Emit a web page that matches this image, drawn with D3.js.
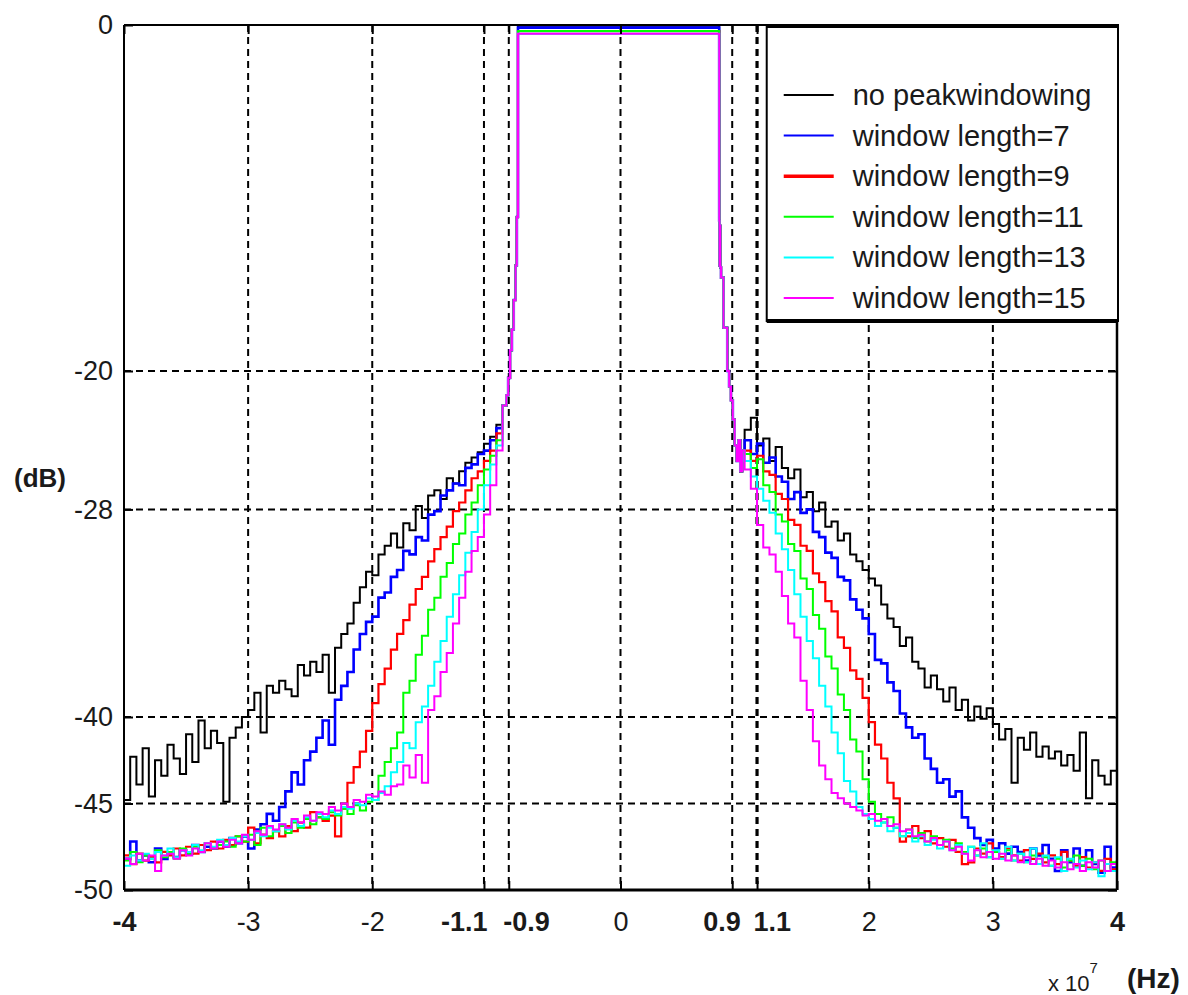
<!DOCTYPE html>
<html>
<head>
<meta charset="utf-8">
<script src="https://cdn.jsdelivr.net/npm/d3@7"></script>
<style>
  html, body { margin: 0; padding: 0; background: #fff; }
  svg { display: block; }
  text { font-family: "Liberation Sans", Arial, sans-serif; fill: #1a1a1a; }
</style>
</head>
<body>
<svg id="chart" width="1188" height="995"></svg>
<script>
// ---- axis ticks ----
const xTickValues = [-4, -3, -2, -1.1, -0.9, 0, 0.9, 1.1, 2, 3, 4];
const xTickLabels = ["-4", "-3", "-2", "-1.1", "-0.9", "0", "0.9", "1.1", "2", "3", "4"];
const yTickValues = [0, -20, -28, -40, -45, -50];
const yTickLabels = ["0", "-20", "-28", "-40", "-45", "-50"];

// ---- series ----
const seriesNames = ["no peakwindowing", "window length=7", "window length=9",
                     "window length=11", "window length=13", "window length=15"];
const seriesColors = ["#000000", "#0000ff", "#ff0000", "#00ff00", "#00ffff", "#ff00ff"];
// in-band level of each spectrum (dB)
const passLevel = [-0.05, -0.15, -0.35, -0.35, -0.5, -0.5];

// skirts sampled every 0.05 (x 1e7 Hz): left from -4.00 to -1.00, right from 1.00 to 4.00
const skirtStep = 0.05;
const leftStart = -4.0;
const rightStart = 1.0;

const leftNoPW = [-44.8,-42.3,-43.9,-41.8,-44.6,-42.5,-43.4,-41.6,-42.4,-43.3,
  -41.0,-42.6,-40.2,-41.8,-40.8,-41.5,-44.9,-41.2,-40.6,-40.0,
  -39.6,-38.6,-40.9,-38.2,-38.6,-37.9,-38.4,-38.8,-37.0,-37.6,
  -36.8,-37.4,-36.4,-38.6,-36.0,-35.2,-34.6,-33.4,-32.5,-31.6,
  -31.8,-30.6,-30.1,-29.4,-30.2,-28.8,-29.2,-27.8,-28.5,-27.2,
  -26.9,-27.4,-26.2,-26.5,-25.8,-25.3,-25.0,-24.7,-24.2,-23.8,-23.1];
const leftW7 = [-48.2,-47.2,-48.3,-48.0,-48.4,-47.6,-48.2,-47.9,-48.1,-47.7,
  -47.9,-47.4,-47.8,-47.5,-47.6,-47.2,-47.5,-47.0,-47.3,-46.9,
  -47.6,-46.5,-46.2,-45.6,-46.0,-45.2,-44.3,-43.2,-43.9,-42.5,
  -42.0,-41.2,-40.2,-41.6,-39.0,-38.2,-37.4,-36.1,-35.2,-34.5,
  -34.2,-33.1,-32.8,-31.9,-31.5,-30.4,-30.6,-29.6,-29.8,-28.3,
  -28.1,-27.2,-26.9,-26.5,-26.6,-25.6,-25.4,-24.8,-24.6,-24.0,-23.3];
const leftW9 = [-48.0,-48.5,-47.9,-48.3,-48.1,-48.4,-47.8,-48.0,-47.6,-48.0,
  -47.5,-47.9,-47.4,-47.7,-47.2,-47.6,-47.1,-47.4,-46.9,-47.2,
  -46.4,-47.3,-46.8,-47.0,-46.6,-46.9,-46.3,-46.6,-46.1,-46.4,
  -45.5,-45.8,-46.0,-45.7,-46.9,-45.3,-43.8,-42.9,-42.0,-40.8,
  -39.2,-38.1,-37.2,-36.1,-35.2,-34.4,-33.5,-32.6,-31.9,-31.0,
  -30.3,-29.6,-29.0,-28.1,-27.6,-26.9,-26.2,-25.8,-25.2,-24.6,-23.6];
const leftW11 = [-48.3,-47.8,-48.4,-48.0,-48.2,-47.7,-48.1,-47.8,-48.2,-47.6,
  -47.9,-47.5,-47.8,-47.3,-47.6,-47.4,-47.2,-47.5,-46.9,-47.2,
  -46.8,-47.4,-46.4,-46.9,-46.6,-46.3,-46.7,-46.1,-46.4,-45.9,
  -46.2,-45.8,-45.9,-45.5,-45.7,-45.3,-45.6,-45.1,-45.4,-44.9,
  -44.8,-43.4,-42.6,-41.8,-40.9,-38.6,-37.9,-36.4,-35.3,-33.8,
  -33.1,-31.9,-31.1,-30.0,-29.4,-28.3,-27.6,-26.6,-25.7,-24.9,-24.0];
const leftW13 = [-48.6,-48.0,-48.3,-47.9,-48.2,-47.8,-48.0,-47.6,-48.1,-47.7,
  -47.8,-47.4,-47.7,-47.3,-47.5,-47.1,-47.4,-47.0,-47.2,-46.9,
  -47.1,-46.7,-46.9,-46.4,-46.6,-46.2,-46.5,-46.0,-46.3,-45.8,
  -46.0,-45.6,-45.8,-45.4,-45.6,-45.2,-45.3,-45.0,-45.1,-44.7,
  -44.8,-44.4,-44.0,-43.2,-42.6,-41.5,-41.8,-40.3,-39.4,-38.2,
  -36.8,-35.6,-34.2,-32.9,-31.8,-30.5,-29.3,-28.0,-26.6,-25.4,-24.3];
const leftW15 = [-48.2,-48.5,-47.9,-48.3,-48.0,-48.9,-48.0,-47.9,-48.2,-47.7,
  -48.0,-47.6,-47.8,-47.3,-47.6,-47.2,-47.5,-47.1,-47.3,-46.8,
  -47.1,-46.6,-46.8,-46.3,-46.5,-46.2,-46.4,-45.9,-46.1,-45.7,
  -46.0,-45.5,-45.6,-45.2,-45.4,-45.0,-45.2,-44.8,-44.9,-44.5,
  -44.6,-44.3,-44.5,-44.0,-43.9,-42.8,-43.5,-42.2,-43.8,-39.6,
  -38.8,-37.4,-36.3,-34.6,-33.1,-31.6,-30.4,-29.6,-28.3,-26.6,-24.6];

const rightNoPW = [-23.4,-22.7,-24.3,-23.9,-25.2,-24.4,-25.6,-26.2,-25.7,-27.3,
  -27.0,-28.1,-27.6,-29.0,-28.7,-29.8,-29.4,-30.6,-31.0,-31.5,
  -32.0,-32.4,-33.5,-34.3,-34.8,-35.9,-35.4,-36.8,-37.2,-38.3,
  -37.6,-38.4,-39.1,-38.3,-39.6,-39.0,-40.2,-39.4,-40.1,-39.5,
  -40.4,-41.3,-40.7,-43.8,-41.2,-41.9,-40.9,-42.3,-41.7,-42.4,
  -42.0,-42.8,-42.2,-43.1,-40.9,-44.7,-42.5,-43.4,-43.9,-43.1,-44.8];
const rightW7 = [-24.0,-24.8,-24.2,-25.3,-25.0,-26.1,-26.4,-27.4,-27.0,-28.2,
  -28.0,-29.3,-29.6,-30.5,-30.8,-31.9,-32.1,-33.2,-33.8,-34.3,
  -35.2,-36.7,-36.9,-38.0,-38.5,-39.8,-40.6,-41.2,-41.0,-42.4,
  -43.0,-43.8,-43.6,-44.6,-44.3,-45.8,-46.4,-47.0,-47.4,-47.1,
  -47.6,-47.3,-47.9,-47.5,-47.8,-48.3,-47.6,-48.0,-47.4,-48.2,
  -48.9,-47.7,-48.4,-47.6,-48.6,-47.7,-48.5,-49.0,-47.5,-48.7,-48.3];
const rightW9 = [-24.6,-25.2,-24.9,-25.8,-26.0,-27.1,-27.4,-28.6,-28.9,-30.1,
  -30.4,-31.7,-32.2,-33.3,-33.9,-35.4,-36.0,-37.3,-37.8,-38.9,
  -40.3,-41.6,-42.4,-43.8,-44.7,-47.2,-46.9,-46.3,-47.0,-46.6,
  -47.3,-47.0,-47.5,-47.1,-47.8,-48.5,-48.4,-47.6,-47.9,-47.3,
  -47.8,-48.1,-47.6,-48.0,-48.3,-47.7,-48.2,-47.9,-48.4,-48.0,
  -48.5,-47.8,-48.3,-48.6,-48.1,-48.7,-48.4,-48.9,-48.2,-48.8,-48.5];
const rightW11 = [-24.8,-25.6,-25.1,-26.6,-27.0,-28.3,-28.7,-30.0,-30.4,-32.0,
  -32.6,-34.1,-34.9,-36.5,-37.2,-38.7,-39.6,-41.3,-42.0,-43.6,
  -44.9,-45.6,-46.1,-45.8,-46.4,-46.9,-46.5,-47.0,-46.7,-47.2,
  -46.9,-47.4,-47.1,-47.6,-47.3,-47.8,-47.5,-48.0,-47.6,-48.1,
  -47.8,-48.2,-47.7,-48.3,-47.9,-48.4,-48.0,-48.5,-48.1,-48.6,
  -48.2,-48.7,-48.3,-48.0,-48.6,-48.2,-48.8,-48.3,-48.9,-48.4,-48.7];
const rightW13 = [-25.2,-26.1,-26.8,-27.5,-28.2,-29.4,-30.3,-31.5,-32.9,-34.2,
  -35.6,-36.6,-38.2,-39.4,-40.9,-42.1,-43.7,-44.3,-45.2,-45.6,
  -45.9,-46.3,-46.1,-46.6,-46.4,-46.9,-46.7,-47.2,-46.9,-47.4,
  -47.1,-47.6,-47.2,-47.7,-47.4,-47.9,-47.5,-48.0,-47.3,-48.1,
  -47.7,-48.2,-47.5,-48.3,-47.9,-48.4,-47.6,-48.5,-48.0,-48.6,
  -48.1,-48.9,-48.2,-48.7,-48.3,-48.8,-48.4,-49.2,-48.5,-48.9,-48.6];
const rightW15 = [-25.7,-26.8,-28.9,-30.2,-30.6,-31.6,-33.0,-34.6,-35.4,-37.9,
  -39.6,-41.4,-42.8,-43.6,-44.4,-44.7,-45.0,-45.2,-45.4,-45.7,
  -45.6,-46.0,-45.9,-46.3,-46.2,-46.6,-46.5,-46.9,-46.8,-47.2,
  -47.0,-47.4,-47.2,-47.7,-47.5,-47.9,-48.3,-47.7,-48.1,-47.8,
  -48.2,-47.9,-48.3,-48.0,-48.4,-48.1,-48.5,-48.2,-48.6,-48.3,
  -48.7,-48.4,-48.8,-48.5,-48.9,-48.4,-48.7,-48.3,-48.9,-48.5,-48.8];

const leftSkirts = [leftNoPW, leftW7, leftW9, leftW11, leftW13, leftW15];
const rightSkirts = [rightNoPW, rightW7, rightW9, rightW11, rightW13, rightW15];

// steep filter edges, common to all spectra
const leftEdgeF  = [-0.95, -0.92, -0.905, -0.89, -0.875, -0.86, -0.845, -0.835];
const leftEdgeDb = [-22.0, -21.4, -20.4, -18.8, -17.6, -15.9, -13.9, -11.1];
const bandEdgeF  = [-0.826, 0.795];
const rightEdgeF  = [0.795, 0.798, 0.801, 0.804, 0.81, 0.83, 0.86, 0.875, 0.89, 0.905, 0.92, 0.935, 0.95, 0.965, 0.98];
const rightEdgeDb = [-11.3, -13.9, -11.6, -14.0, -14.6, -17.5, -20.0, -20.9, -21.7, -22.8, -24.3, -25.2, -24.0, -25.8, -24.6];

// ---- layout ----
const margin = { left: 124, top: 25, right: 71, bottom: 105 };
const W = 1188, H = 995;
const plotW = W - margin.left - margin.right;
const plotH = H - margin.top - margin.bottom;

const x = d3.scaleLinear().domain([-4, 4]).range([0, plotW]);
const y = d3.scaleLinear().domain([-50, 0]).range([plotH, 0]);

const svg = d3.select("#chart");
const g = svg.append("g").attr("transform", `translate(${margin.left},${margin.top})`);

g.append("defs").append("clipPath").attr("id", "plotClip")
  .append("rect").attr("x", 0).attr("y", 0).attr("width", plotW).attr("height", plotH);

// grid
const grid = g.append("g").attr("class", "grid");
grid.selectAll("line.vx").data(xTickValues.filter(v => v > -4 && v < 4)).join("line")
  .attr("x1", d => x(d)).attr("x2", d => x(d))
  .attr("y1", 0).attr("y2", plotH)
  .attr("stroke", "#000")
  .attr("stroke-width", d => d === 1.1 ? 3.2 : 2)
  .attr("stroke-dasharray", "7,5");
grid.selectAll("line.hy").data(yTickValues.filter(v => v > -50 && v < 0)).join("line")
  .attr("x1", 0).attr("x2", plotW)
  .attr("y1", d => y(d)).attr("y2", d => y(d))
  .attr("stroke", "#000").attr("stroke-width", 2)
  .attr("stroke-dasharray", "7,5");

// spectra
function spectrum(k) {
  const pts = [];
  leftSkirts[k].forEach((v, i) => pts.push([leftStart + i * skirtStep, v]));
  leftEdgeF.forEach((f, i) => pts.push([f, leftEdgeDb[i]]));
  pts.push([bandEdgeF[0], passLevel[k]]);
  pts.push([bandEdgeF[1], passLevel[k]]);
  rightEdgeF.forEach((f, i) => pts.push([f, rightEdgeDb[i]]));
  rightSkirts[k].forEach((v, i) => pts.push([rightStart + i * skirtStep, v]));
  return pts;
}

const line = d3.line().x(d => x(d[0])).y(d => y(d[1])).curve(d3.curveStepAfter);
const curves = g.append("g").attr("clip-path", "url(#plotClip)");
seriesNames.forEach((name, k) => {
  curves.append("path")
    .datum(spectrum(k))
    .attr("fill", "none")
    .attr("stroke", seriesColors[k])
    .attr("stroke-width", k === 1 ? 2.6 : (k === 2 ? 2.2 : 2))
    .attr("stroke-linejoin", "miter")
    .attr("d", line);
});

// axes
const xAxis = d3.axisBottom(x).tickValues(xTickValues)
  .tickFormat((d, i) => xTickLabels[i]).tickSizeInner(-9).tickSizeOuter(0).tickPadding(22);
const gx = g.append("g").attr("transform", `translate(0,${plotH})`).call(xAxis);
gx.select(".domain").remove();
gx.selectAll(".tick line").attr("stroke", "#000").attr("stroke-width", 2);
const boldX = new Set(["-4", "4", "-1.1", "-0.9", "0.9", "1.1"]);
const xLabelShift = { "-1.1": ["end", 3], "-0.9": ["start", -6], "0.9": ["end", 8], "1.1": ["start", -4] };
gx.selectAll(".tick text")
  .attr("font-size", 27)
  .attr("fill", "#1a1a1a")
  .attr("font-weight", (d, i) => boldX.has(xTickLabels[i]) ? "bold" : "normal")
  .attr("text-anchor", (d, i) => xLabelShift[xTickLabels[i]] ? xLabelShift[xTickLabels[i]][0] : "middle")
  .attr("dx", (d, i) => xLabelShift[xTickLabels[i]] ? xLabelShift[xTickLabels[i]][1] : 0);

const xTop = d3.axisTop(x).tickValues(xTickValues).tickFormat("").tickSizeInner(-9).tickSizeOuter(0);
const gxt = g.append("g").call(xTop);
gxt.select(".domain").remove();
gxt.selectAll(".tick line").attr("stroke", "#000").attr("stroke-width", 2);

const yAxis = d3.axisLeft(y).tickValues(yTickValues)
  .tickFormat((d, i) => yTickLabels[i]).tickSizeInner(-9).tickSizeOuter(0).tickPadding(11);
const gy = g.append("g").call(yAxis);
gy.select(".domain").remove();
gy.selectAll(".tick line").attr("stroke", "#000").attr("stroke-width", 2);
gy.selectAll(".tick text").attr("font-size", 27).attr("fill", "#1a1a1a");

const yRight = d3.axisRight(y).tickValues(yTickValues).tickFormat("").tickSizeInner(-9).tickSizeOuter(0);
const gyr = g.append("g").attr("transform", `translate(${plotW},0)`).call(yRight);
gyr.select(".domain").remove();
gyr.selectAll(".tick line").attr("stroke", "#000").attr("stroke-width", 2);

// frame
g.append("line").attr("x1", 0).attr("x2", plotW).attr("y1", 0).attr("y2", 0).attr("stroke", "#000").attr("stroke-width", 2);
g.append("line").attr("x1", 0).attr("x2", plotW).attr("y1", plotH).attr("y2", plotH).attr("stroke", "#000").attr("stroke-width", 3);
g.append("line").attr("x1", 0).attr("x2", 0).attr("y1", 0).attr("y2", plotH).attr("stroke", "#000").attr("stroke-width", 2);
g.append("line").attr("x1", plotW).attr("x2", plotW).attr("y1", 0).attr("y2", plotH).attr("stroke", "#000").attr("stroke-width", 2.5);

// axis titles
svg.append("text").attr("x", 14).attr("y", 487).attr("font-size", 26).attr("font-weight", "bold").text("(dB)");
const hz = svg.append("text").attr("x", 1048).attr("y", 991).attr("font-size", 22).attr("fill", "#333");
hz.append("tspan").text("x 10");
hz.append("tspan").attr("dy", -18).attr("font-size", 15).text("7");
svg.append("text").attr("x", 1127).attr("y", 988).attr("font-size", 28).attr("font-weight", "bold").text("(Hz)");

// legend
const lg = g.append("g").attr("transform", `translate(${x(1.17) - x(-4) + 1},0)`);
const lgW = plotW - (x(1.17) - x(-4) + 1) + 1;
const lgH = 296;
lg.append("rect").attr("x", 0).attr("y", 0).attr("width", lgW).attr("height", lgH)
  .attr("fill", "#fff").attr("stroke", "#000").attr("stroke-width", 2);
lg.append("line").attr("x1", 0).attr("x2", lgW).attr("y1", lgH).attr("y2", lgH)
  .attr("stroke", "#000").attr("stroke-width", 4);
lg.append("line").attr("x1", 0).attr("x2", lgW).attr("y1", 1).attr("y2", 1)
  .attr("stroke", "#000").attr("stroke-width", 4);
const rowY0 = 70, rowGap = 40.6;
seriesNames.forEach((name, k) => {
  const ry = rowY0 + k * rowGap;
  lg.append("line").attr("x1", 17).attr("x2", 67).attr("y1", ry).attr("y2", ry)
    .attr("stroke", seriesColors[k]).attr("stroke-width", k === 2 ? 3.5 : 2);
  lg.append("text").attr("x", 86).attr("y", ry + 10).attr("font-size", 29).attr("fill", "#111").text(name);
});
</script>
</body>
</html>
